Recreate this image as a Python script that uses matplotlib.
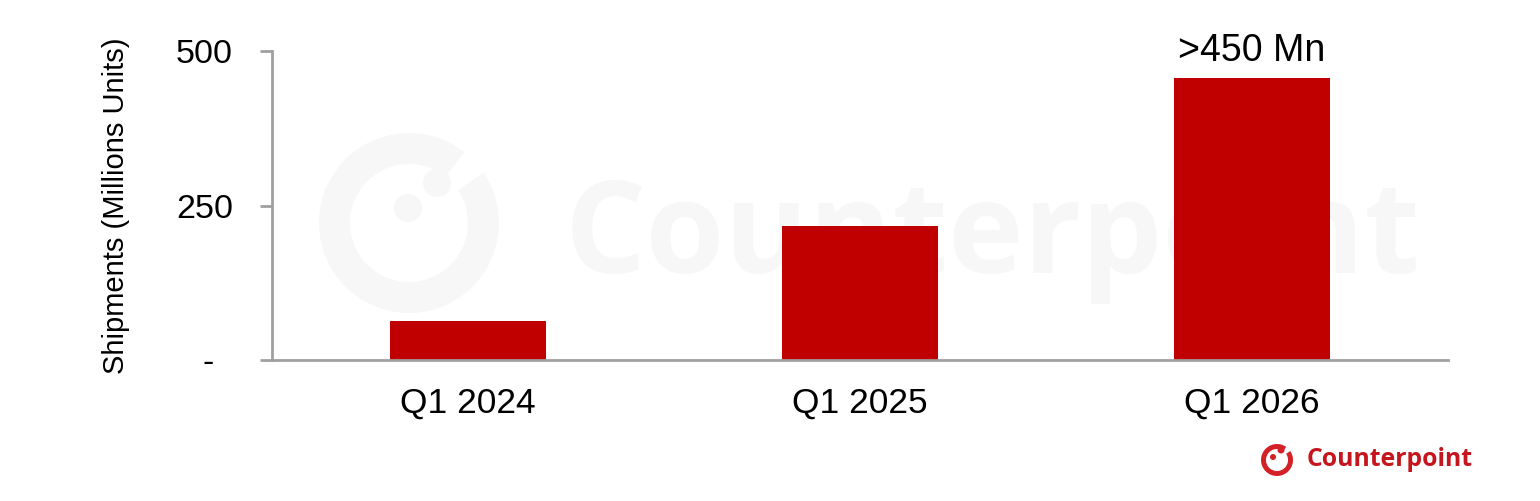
import matplotlib.pyplot as plt
from matplotlib.patches import Wedge, Circle

plt.rcParams['font.family'] = ['Liberation Sans', 'DejaVu Sans']

quarters = ["Q1 2024", "Q1 2025", "Q1 2026"]
shipments = [63, 217, 457]
yticks = [0, 250, 500]
ytick_labels = ["-  ", "250", "500"]
top_label = ">450 Mn"

W, H = 1540, 501
fig = plt.figure(figsize=(W / 100, H / 100), dpi=100)

# background layer in pixel coords (y up) for the watermark and logo
bg = fig.add_axes([0, 0, 1, 1], zorder=0)
bg.set_xlim(0, W)
bg.set_ylim(0, H)
bg.axis("off")

wm = "#f7f7f7"
bg.add_patch(Wedge((409, H - 223), 90, 52, 394, width=31, color=wm, lw=0))
bg.add_patch(Circle((437, H - 183), 14, color=wm, lw=0))
bg.add_patch(Circle((408, H - 208), 14, color=wm, lw=0))
bg.text(565, H - 273, "Counterpoint", fontsize=92, fontweight="bold",
        family=["Open Sans", "DejaVu Sans"], color=wm, ha="left", va="baseline")

# small logo bottom right
red = "#d42027"
bg.add_patch(Wedge((1277, H - 460), 16, 55, 394, width=5, color=red, lw=0))
bg.add_patch(Circle((1281, H - 450), 3.5, color=red, lw=0))
bg.add_patch(Circle((1273, H - 457), 3, color=red, lw=0))
bg.text(1307, H - 459, "Counterpoint", fontsize=17.8, fontweight="bold",
        family=["Open Sans", "DejaVu Sans"], color="#c4161c", ha="left", va="center")

ax = fig.add_axes([272 / W, 1 - 360 / H, (1448 - 272) / W, (360 - 51) / H], zorder=1)
ax.patch.set_alpha(0)

x = range(len(quarters))
ax.bar(x, shipments, width=0.4, color="#c00000", zorder=2)
ax.text(2, shipments[2] + 14, top_label, ha="center", va="bottom", fontsize=27)

ax.set_xlim(-0.5, 2.5)
ax.set_ylim(0, 500)
ax.set_xticks(list(x))
ax.set_xticklabels(quarters, fontsize=25.5)
ax.set_yticks(yticks)
ax.set_yticklabels(ytick_labels, fontsize=24.5)
ax.tick_params(axis="x", length=0, pad=19)
ax.tick_params(axis="y", length=9, width=2, color="#a0a0a0", pad=19)
ax.set_ylabel("Shipments (Millions Units)", fontsize=21, labelpad=33)

for s in ["top", "right"]:
    ax.spines[s].set_visible(False)
for s in ["left", "bottom"]:
    ax.spines[s].set_color("#a0a0a0")
    ax.spines[s].set_linewidth(2)

fig.savefig("out.png", dpi=100)
